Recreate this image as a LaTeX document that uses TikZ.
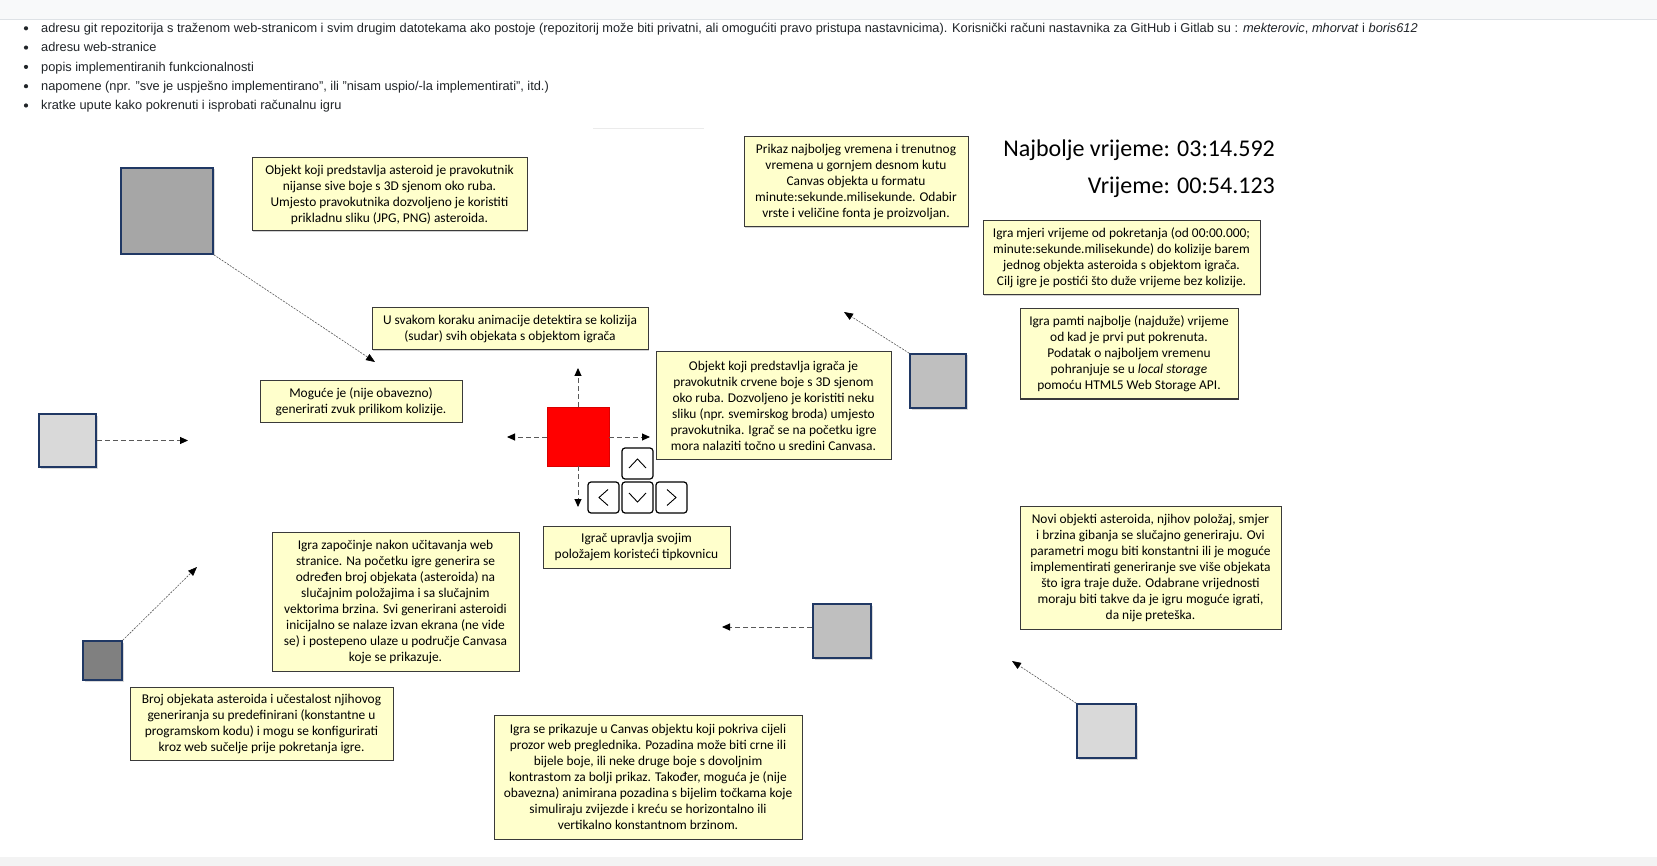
\documentclass[tikz,border=0pt]{standalone}
\usepackage{fontspec}
\setmainfont{Liberation Sans}
\newfontfamily\boxfont{Carlito}
\usetikzlibrary{arrows.meta,shadows}
\definecolor{boxfill}{HTML}{FFFFCC}
\definecolor{boxline}{HTML}{3A3A3A}
\definecolor{sqline}{HTML}{203864}
\definecolor{pagetext}{HTML}{212529}
\definecolor{topbar}{HTML}{F8F9FA}
\definecolor{topline}{HTML}{DEE2E6}
\definecolor{botbar}{HTML}{F3F3F3}
\definecolor{astA}{HTML}{A6A6A6}
\definecolor{astB}{HTML}{D9D9D9}
\definecolor{astC}{HTML}{BFBFBF}
\definecolor{astD}{HTML}{808080}
\definecolor{dashcol}{HTML}{595959}
\tikzset{
  note/.style={draw=boxline, line width=1pt, fill=boxfill, inner sep=0pt, align=center,
    font=\boxfont\fontsize{13.4}{16}\selectfont,
    general shadow={fill=black, opacity=0.18, shadow xshift=1.2pt, shadow yshift=-1.2pt}},
  aster/.style={draw=sqline, line width=1.6pt, inner sep=0pt,
    general shadow={fill=black, opacity=0.15, shadow xshift=1.5pt, shadow yshift=-1.5pt}},
  keybox/.style={draw=black, line width=1.2pt, fill=white, rounded corners=3pt,
    minimum width=31pt, minimum height=31pt, inner sep=0pt},
  chev/.style={draw=black, line width=0.9pt},
  diagarrow/.style={draw=dashcol, line width=0.6pt, dash pattern=on 2pt off 1.2pt,
    -{Triangle[length=9pt,width=7pt,color=black]}},
  straightarrow/.style={draw=dashcol, line width=0.9pt, dash pattern=on 5pt off 3pt,
    -{Triangle[length=8pt,width=7pt,color=black]}},
  bullettext/.style={anchor=base west, inner sep=0pt, text=pagetext, font=\fontsize{12.8}{15}\selectfont},
  bigtime/.style={anchor=base east, inner sep=0pt, font=\boxfont\fontsize{24}{28}\selectfont},
}
\begin{document}
\begin{tikzpicture}[x=1pt,y=-1pt]
\useasboundingbox (0,0) rectangle (1657,866);
\fill[white] (0,0) rectangle (1657,866);
% page bars
\fill[topbar] (0,0) rectangle (1657,20);
\draw[topline, line width=1pt] (0,20) -- (1657,20);
\fill[botbar] (0,857) rectangle (1657,866);
\draw[black!8, line width=0.8pt] (593,128) -- (704,128);

% bullet list
\foreach \yy in {32.5,51.8,71.1,90.4,109.7} { \fill[pagetext] (26,\yy-4.2) circle (2.1); }
\node[bullettext] (l1) at (41,32.5) {adresu git repozitorija s traženom web-stranicom i svim drugim datotekama ako postoje (repozitorij može biti privatni, ali omogućiti pravo pristupa nastavnicima). Korisnički računi nastavnika za GitHub i Gitlab su : \textit{mekterovic}, \textit{mhorvat} i \textit{boris612}};
\node[bullettext] (l2) at (41,51.8) {adresu web-stranice};
\node[bullettext] (l3) at (41,71.1) {popis implementiranih funkcionalnosti};
\node[bullettext] (l4) at (41,90.4) {napomene (npr. "sve je uspješno implementirano", ili "nisam uspio/-la implementirati", itd.)};
\node[bullettext] (l5) at (41,109.7) {kratke upute kako pokrenuti i isprobati računalnu igru};

% time display
\node[bigtime] (best) at (1275,156.7) {Najbolje vrijeme: 03:14.592};
\node[bigtime] (cur) at (1275,194) {Vrijeme: 00:54.123};

% asteroid squares
\node[aster, fill=astA, minimum width=92pt, minimum height=86pt] (S1) at (167,211) {};
\node[aster, fill=astB, minimum width=57pt, minimum height=53pt] (S2) at (67.5,440.5) {};
\node[aster, fill=astC, minimum width=56pt, minimum height=54pt] (S4) at (938,381) {};
\node[aster, fill=astD, minimum width=39pt, minimum height=39pt] (S5) at (102.5,660.5) {};
\node[aster, fill=astC, minimum width=58pt, minimum height=54pt] (S6) at (842,631) {};
\node[aster, fill=astB, minimum width=59pt, minimum height=54pt] (S7) at (1106.5,731) {};

% player
\node[draw=red!85!black, line width=0.6pt, fill=red, inner sep=0pt, minimum width=62pt, minimum height=59pt] (P) at (578,436.5) {};

% keys
\node[keybox] (kU) at (637.5,463.5) {};
\node[keybox] (kL) at (603.5,497.5) {};
\node[keybox] (kD) at (637.5,497.5) {};
\node[keybox] (kR) at (671.5,497.5) {};
\draw[chev] ([xshift=-8.5pt,yshift=-4.5pt]kU.center) -- ([yshift=4.5pt]kU.center) -- ([xshift=8.5pt,yshift=-4.5pt]kU.center);
\draw[chev] ([xshift=-8.5pt,yshift=4.5pt]kD.center) -- ([yshift=-4.5pt]kD.center) -- ([xshift=8.5pt,yshift=4.5pt]kD.center);
\draw[chev] ([xshift=4.5pt,yshift=8pt]kL.center) -- ([xshift=-4.5pt]kL.center) -- ([xshift=4.5pt,yshift=-8pt]kL.center);
\draw[chev] ([xshift=-4.5pt,yshift=8pt]kR.center) -- ([xshift=4.5pt]kR.center) -- ([xshift=-4.5pt,yshift=-8pt]kR.center);

% notes
\node[note, minimum width=275pt, minimum height=73pt] (B1) at (389.5,194.5) {Objekt koji predstavlja asteroid je pravokutnik\\nijanse sive boje s 3D sjenom oko ruba.\\Umjesto pravokutnika dozvoljeno je koristiti\\prikladnu sliku (JPG, PNG) asteroida.};
\node[note, minimum width=276pt, minimum height=42pt] (B2) at (510,329) {U svakom koraku animacije detektira se kolizija\\(sudar) svih objekata s objektom igrača};
\node[note, minimum width=202pt, minimum height=41pt] (B3) at (361,401.5) {Moguće je (nije obavezno)\\generirati zvuk prilikom kolizije.};
\node[note, minimum width=235pt, minimum height=107pt] (B4) at (773.5,405.5) {Objekt koji predstavlja igrača je\\pravokutnik crvene boje s 3D sjenom\\oko ruba. Dozvoljeno je koristiti neku\\sliku (npr. svemirskog broda) umjesto\\pravokutnika. Igrač se na početku igre\\mora nalaziti točno u sredini Canvasa.};
\node[note, minimum width=187pt, minimum height=42pt] (B5) at (636.5,547) {Igrač upravlja svojim\\položajem koristeći tipkovnicu};
\node[note, minimum width=224pt, minimum height=90pt] (B6) at (856,182) {Prikaz najboljeg vremena i trenutnog\\vremena u gornjem desnom kutu\\Canvas objekta u formatu\\minute:sekunde.milisekunde. Odabir\\vrste i veličine fonta je proizvoljan.};
\node[note, minimum width=277pt, minimum height=74pt] (B7) at (1121.5,258) {Igra mjeri vrijeme od pokretanja (od 00:00.000;\\minute:sekunde.milisekunde) do kolizije barem\\jednog objekta asteroida s objektom igrača.\\Cilj igre je postići što duže vrijeme bez kolizije.};
\node[note, minimum width=218pt, minimum height=90pt] (B8) at (1129,354) {Igra pamti najbolje (najduže) vrijeme\\od kad je prvi put pokrenuta.\\Podatak o najboljem vremenu\\pohranjuje se u \textit{local storage}\\pomoću HTML5 Web Storage API.};
\node[note, minimum width=247pt, minimum height=139pt] (B9) at (395.5,601.5) {Igra započinje nakon učitavanja web\\stranice. Na početku igre generira se\\određen broj objekata (asteroida) na\\slučajnim položajima i sa slučajnim\\vektorima brzina. Svi generirani asteroidi\\inicijalno se nalaze izvan ekrana (ne vide\\se) i postepeno ulaze u područje Canvasa\\koje se prikazuje.};
\node[note, minimum width=263pt, minimum height=73pt] (B10) at (261.5,723.5) {Broj objekata asteroida i učestalost njihovog\\generiranja su predefinirani (konstantne u\\programskom kodu) i mogu se konfigurirati\\kroz web sučelje prije pokretanja igre.};
\node[note, minimum width=308pt, minimum height=124pt] (B11) at (648,777) {Igra se prikazuje u Canvas objektu koji pokriva cijeli\\prozor web preglednika. Pozadina može biti crne ili\\bijele boje, ili neke druge boje s dovoljnim\\kontrastom za bolji prikaz. Također, moguća je (nije\\obavezna) animirana pozadina s bijelim točkama koje\\simuliraju zvijezde i kreću se horizontalno ili\\vertikalno konstantnom brzinom.};
\node[note, minimum width=261pt, minimum height=123pt] (B12) at (1150.5,567.5) {Novi objekti asteroida, njihov položaj, smjer\\i brzina gibanja se slučajno generiraju. Ovi\\parametri mogu biti konstantni ili je moguće\\implementirati generiranje sve više objekata\\što igra traje duže. Odabrane vrijednosti\\moraju biti takve da je igru moguće igrati,\\da nije preteška.};

% arrow end points
\coordinate (t1) at (375,362);
\coordinate (t2) at (188,440.5);
\coordinate (t3) at (844,312);
\coordinate (t4) at (197,567);
\coordinate (t5) at (722,627);
\coordinate (t6) at (1012,661);
\coordinate (pu) at (578,368);
\coordinate (pd) at (578,507);
\coordinate (pl) at (507,437);
\coordinate (pr) at (650,437);

% arrows
\draw[diagarrow] (S1.south east) -- (t1);
\draw[straightarrow] (S2.east) -- (t2);
\draw[diagarrow] (S4.north west) -- (t3);
\draw[diagarrow] (S5.north east) -- (t4);
\draw[straightarrow] (S6.west |- t5) -- (t5);
\draw[diagarrow] (S7.north west) -- (t6);
\draw[straightarrow] (P.north) -- (pu);
\draw[straightarrow] (P.south) -- (pd);
\draw[straightarrow] (P.west |- pl) -- (pl);
\draw[straightarrow] (P.east |- pr) -- (pr);
\end{tikzpicture}
\end{document}
